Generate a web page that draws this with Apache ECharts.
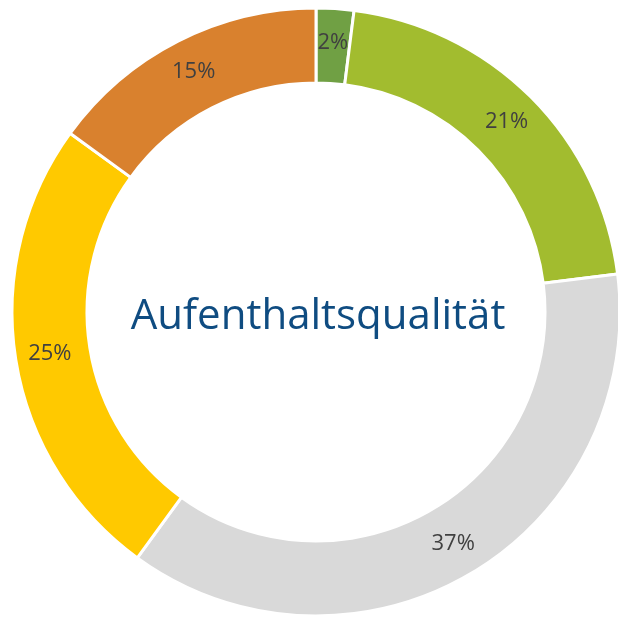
<!DOCTYPE html>
<html lang="de">
<head>
    <meta charset="UTF-8">
    <title>Aufenthaltsqualität</title>
    <script src="https://cdn.jsdelivr.net/npm/echarts@6/dist/echarts.min.js"></script>
    <style>
        html, body { margin: 0; padding: 0; background: #fff; }
        #chart { width: 618px; height: 617px; }
    </style>
</head>
<body>
<div id="chart"></div>
<script>
    // Anteile in Prozent, im Uhrzeigersinn ab 12 Uhr
    var categories = ['sehr gut', 'gut', 'mittel', 'schlecht', 'sehr schlecht'];
    var values = [2, 21, 37, 25, 15];
    var colors = ['#70A044', '#A2BC2F', '#D9D9D9', '#FFC900', '#D9812E'];
    var centerTitle = 'Aufenthaltsqualität';

    var data = [];
    categories.forEach(function (name, i) {
        data.push({ name: name, value: values[i], itemStyle: { color: colors[i] } });
    });

    var option = {
        animation: false,
        title: {
            text: centerTitle,
            left: 313,
            top: 312,
            textAlign: 'center',
            textVerticalAlign: 'middle',
            textStyle: {
                fontFamily: 'Open Sans',
                fontWeight: 'normal',
                fontSize: 42,
                color: '#0F4C81'
            }
        },
        series: [{
            type: 'pie',
            center: [316, 312],
            radius: [229, 304],
            startAngle: 90,
            clockwise: true,
            itemStyle: {
                borderColor: '#fff',
                borderWidth: 3
            },
            label: {
                show: true,
                position: 'inside',
                formatter: '{c}%',
                color: '#404040',
                fontFamily: 'Open Sans',
                fontSize: 22
            },
            labelLine: { show: false },
            emphasis: { disabled: true },
            data: data
        }]
    };

    var myChart = echarts.init(document.getElementById('chart'));
    myChart.setOption(option);
</script>
</body>
</html>
